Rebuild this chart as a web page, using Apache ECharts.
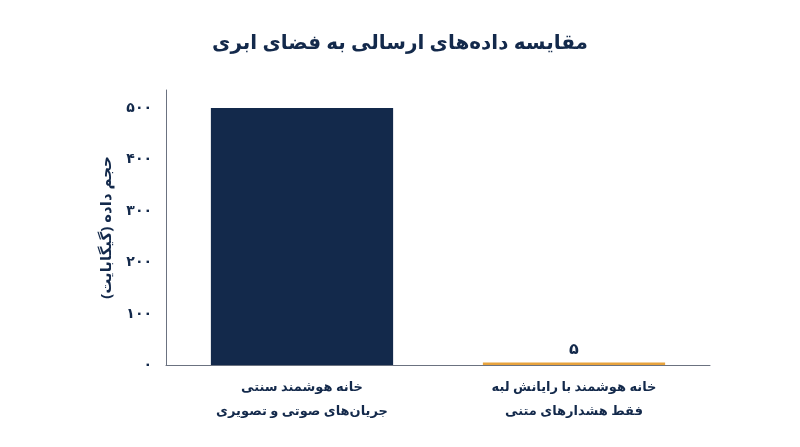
<!DOCTYPE html>
<html><head><meta charset="utf-8">
<script src="https://cdn.jsdelivr.net/npm/echarts@6/dist/echarts.min.js"></script>
<style>html,body{margin:0;background:#fff}#c{width:800px;height:447px}</style>
</head><body><div id="c"></div>
<script>
const title = 'مقایسه داده‌های ارسالی به فضای ابری';
const categories = ['خانه هوشمند سنتی\nجریان‌های صوتی و تصویری', 'خانه هوشمند با رایانش لبه\nفقط هشدارهای متنی'];
const values = [500, 5];
const colors = ['#13294b', '#e8a33d'];
const yName = 'حجم داده (گیگابایت)';
const fa = n => String(n).replace(/\d/g, d => '۰۱۲۳۴۵۶۷۸۹'[d]);
const font = "'Noto Sans', 'DejaVu Sans', sans-serif";
const chart = echarts.init(document.getElementById('c'));
chart.setOption({
  title: {text: title, left: 'center', top: 28, textStyle: {fontFamily: font, fontSize: 20, fontWeight: 'bold', color: '#13294b'}},
  grid: {left: 166, right: 90, top: 90, bottom: 82},
  xAxis: {type: 'category', data: categories,
    axisLine: {lineStyle: {color: '#6b7280'}}, axisTick: {show: false},
    axisLabel: {fontFamily: font, fontSize: 13, fontWeight: 'bold', color: '#13294b', lineHeight: 24, margin: 10}},
  yAxis: {type: 'value', min: 0, max: 535, interval: 100,
    name: yName, nameLocation: 'middle', nameGap: 52, nameRotate: 90,
    nameTextStyle: {fontFamily: font, fontSize: 15, fontWeight: 'bold', color: '#13294b'},
    axisLine: {show: true, lineStyle: {color: '#6b7280'}}, axisTick: {show: false}, splitLine: {show: false},
    axisLabel: {fontFamily: font, fontSize: 14, fontWeight: 'bold', color: '#13294b', margin: 14,
      formatter: v => v % 100 === 0 ? fa(v) : ''}},
  series: [{type: 'bar', barWidth: '67%',
    data: values.map((v, i) => ({value: v, itemStyle: {color: colors[i]},
      label: {show: i === 1, position: 'top', formatter: p => fa(p.value), fontFamily: font, fontSize: 16, fontWeight: 'bold', color: '#13294b'}}))}]
});
</script></body></html>
